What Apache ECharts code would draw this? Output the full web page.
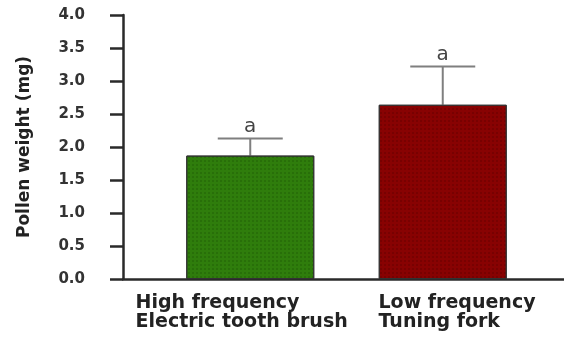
<!DOCTYPE html>
<html>
<head>
<meta charset="utf-8">
<script src="https://cdn.jsdelivr.net/npm/echarts@6/dist/echarts.min.js"></script>
<style>
  html, body { margin: 0; padding: 0; background: #fff; }
  #chart { width: 564px; height: 350px; }
</style>
</head>
<body>
<div id="chart"></div>
<script>
// Pollen weight collected by each vibration source (mean ± SE)
const categories = ['High frequency\nElectric tooth brush', 'Low frequency\nTuning fork'];
const meanWeight = [1.87, 2.64];
const stdError = [0.26, 0.58];
const groupLetters = ['a', 'a'];
const yTicks = [0, 0.5, 1.0, 1.5, 2.0, 2.5, 3.0, 3.5, 4.0];

const barColors = ['#2f7d0c', '#880202'];
const dotColors = ['rgba(20,60,0,0.55)', 'rgba(60,0,0,0.55)'];

const yMin = yTicks[0];
const yMax = yTicks[yTicks.length - 1];
const yStep = yTicks[1] - yTicks[0];
const FONT = 'DejaVu Sans';

const hiddenY = (grid) => ({
  gridIndex: grid, type: 'value', min: yMin, max: yMax, interval: yStep, show: false
});

const chart = echarts.init(document.getElementById('chart'), null, { renderer: 'canvas' });

chart.setOption({
  animation: false,
  backgroundColor: '#fff',
  grid: [
    { left: 123, right: 0, top: 15, bottom: 71 },   // axis frame
    { left: 154, right: 25, top: 15, bottom: 71 },  // bars
    { left: 14, right: 64, top: 15, bottom: 71 }    // category labels
  ],
  xAxis: [
    {
      gridIndex: 0, type: 'value', min: 0, max: 1,
      axisLine: { show: true, lineStyle: { color: '#2a2a2a', width: 2.5 } },
      axisTick: { show: false }, axisLabel: { show: false }, splitLine: { show: false }
    },
    {
      gridIndex: 1, type: 'category', data: categories, show: false
    },
    {
      gridIndex: 2, type: 'category', data: categories,
      axisLine: { show: false }, axisTick: { show: false }, splitLine: { show: false },
      axisLabel: {
        show: true, align: 'left', margin: 15, interval: 0,
        fontFamily: FONT, fontWeight: 'bold', fontSize: 19, color: '#222',
        lineHeight: 19
      }
    }
  ],
  yAxis: [
    {
      gridIndex: 0, type: 'value', min: yMin, max: yMax, interval: yStep,
      name: 'Pollen weight (mg)', nameLocation: 'middle', nameGap: 90,
      nameTextStyle: { fontFamily: FONT, fontWeight: 'bold', fontSize: 17, color: '#222' },
      axisLine: { show: true, lineStyle: { color: '#2a2a2a', width: 2.5 } },
      axisTick: { show: true, inside: false, length: 13, lineStyle: { color: '#2a2a2a', width: 2.5 } },
      axisLabel: {
        margin: 38, fontFamily: FONT, fontWeight: 'bold', fontSize: 15, color: '#333',
        formatter: (v) => v.toFixed(1)
      },
      splitLine: { show: false }
    },
    hiddenY(1),
    hiddenY(2)
  ],
  series: [
    {
      type: 'bar', xAxisIndex: 1, yAxisIndex: 1, barWidth: 128, z: 2,
      data: meanWeight.map((v, i) => ({
        value: v,
        itemStyle: {
          color: barColors[i], borderColor: '#333', borderWidth: 1,
          decal: {
            symbol: 'circle', symbolSize: 0.7,
            dashArrayX: [1.5, 1.5], dashArrayY: [1.5, 1.5],
            color: dotColors[i]
          }
        }
      }))
    },
    {
      // upper error whiskers with their significance letters
      type: 'custom', xAxisIndex: 1, yAxisIndex: 1, z: 1,
      data: meanWeight.map((m, i) => [i, m, m + stdError[i]]),
      renderItem: (params, api) => {
        const i = api.value(0);
        const base = api.coord([i, api.value(1)]);
        const top = api.coord([i, api.value(2)]);
        const half = 32.5;
        const style = { stroke: '#7f7f7f', lineWidth: 2 };
        return {
          type: 'group',
          children: [
            { type: 'line', shape: { x1: top[0], y1: base[1], x2: top[0], y2: top[1] }, style },
            { type: 'line', shape: { x1: top[0] - half, y1: top[1], x2: top[0] + half, y2: top[1] }, style },
            {
              type: 'text',
              style: {
                x: top[0], y: top[1] - 2, text: groupLetters[i],
                align: 'center', verticalAlign: 'bottom',
                font: '20px "DejaVu Sans"', fill: '#444'
              }
            }
          ]
        };
      }
    }
  ]
});
</script>
</body>
</html>
